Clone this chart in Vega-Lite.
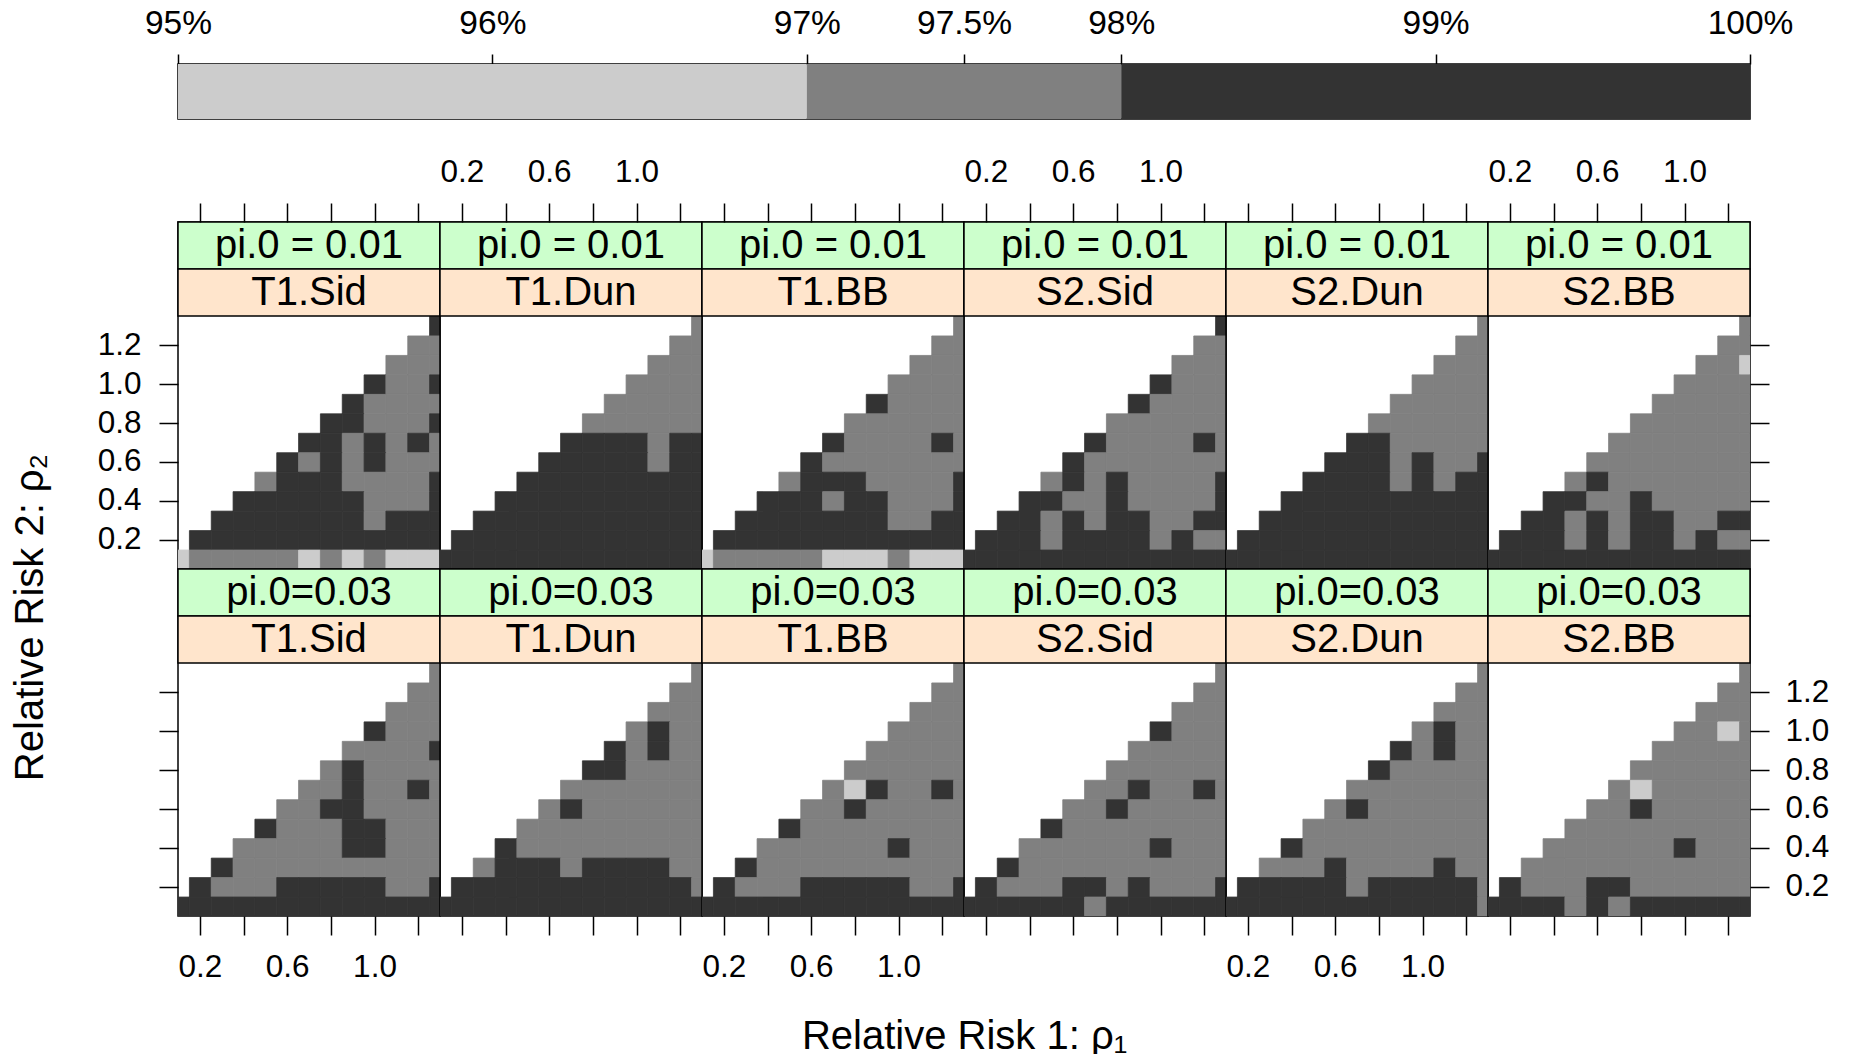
{
"$schema": "https://vega.github.io/schema/vega-lite/v6.json",
"background": "white",
"padding": {"left": 10, "top": 5, "right": 5, "bottom": 5},
"config": {
  "font": "Liberation Sans",
  "view": {"stroke": "black", "strokeWidth": 1.5},
  "axis": {"domain": false, "grid": false, "tickColor": "black", "tickWidth": 1.5, "tickSize": 19, "labelFontSize": 31.5, "labelColor": "black", "labelFlush": false, "labelOverlap": false, "titleFontSize": 40, "titleFontWeight": "normal", "titleColor": "black", "labelPadding": 14}
},
"datasets": {
"A1": [
{"x":1.3,"y":1.3,"v":99},
{"x":1.2,"y":1.2,"v":97.5},{"x":1.3,"y":1.2,"v":97.5},
{"x":1.1,"y":1.1,"v":97.5},{"x":1.2,"y":1.1,"v":97.5},{"x":1.3,"y":1.1,"v":97.5},
{"x":1,"y":1,"v":99},{"x":1.1,"y":1,"v":97.5},{"x":1.2,"y":1,"v":97.5},{"x":1.3,"y":1,"v":99},
{"x":0.9,"y":0.9,"v":99},{"x":1,"y":0.9,"v":97.5},{"x":1.1,"y":0.9,"v":97.5},{"x":1.2,"y":0.9,"v":97.5},{"x":1.3,"y":0.9,"v":97.5},
{"x":0.8,"y":0.8,"v":99},{"x":0.9,"y":0.8,"v":99},{"x":1,"y":0.8,"v":97.5},{"x":1.1,"y":0.8,"v":97.5},{"x":1.2,"y":0.8,"v":97.5},{"x":1.3,"y":0.8,"v":99},
{"x":0.7,"y":0.7,"v":99},{"x":0.8,"y":0.7,"v":99},{"x":0.9,"y":0.7,"v":97.5},{"x":1,"y":0.7,"v":99},{"x":1.1,"y":0.7,"v":97.5},{"x":1.2,"y":0.7,"v":99},{"x":1.3,"y":0.7,"v":97.5},
{"x":0.6,"y":0.6,"v":99},{"x":0.7,"y":0.6,"v":97.5},{"x":0.8,"y":0.6,"v":99},{"x":0.9,"y":0.6,"v":97.5},{"x":1,"y":0.6,"v":99},{"x":1.1,"y":0.6,"v":97.5},{"x":1.2,"y":0.6,"v":97.5},{"x":1.3,"y":0.6,"v":97.5},
{"x":0.5,"y":0.5,"v":97.5},{"x":0.6,"y":0.5,"v":99},{"x":0.7,"y":0.5,"v":99},{"x":0.8,"y":0.5,"v":99},{"x":0.9,"y":0.5,"v":97.5},{"x":1,"y":0.5,"v":97.5},{"x":1.1,"y":0.5,"v":97.5},{"x":1.2,"y":0.5,"v":97.5},{"x":1.3,"y":0.5,"v":99},
{"x":0.4,"y":0.4,"v":99},{"x":0.5,"y":0.4,"v":99},{"x":0.6,"y":0.4,"v":99},{"x":0.7,"y":0.4,"v":99},{"x":0.8,"y":0.4,"v":99},{"x":0.9,"y":0.4,"v":99},{"x":1,"y":0.4,"v":97.5},{"x":1.1,"y":0.4,"v":97.5},{"x":1.2,"y":0.4,"v":97.5},{"x":1.3,"y":0.4,"v":99},
{"x":0.3,"y":0.3,"v":99},{"x":0.4,"y":0.3,"v":99},{"x":0.5,"y":0.3,"v":99},{"x":0.6,"y":0.3,"v":99},{"x":0.7,"y":0.3,"v":99},{"x":0.8,"y":0.3,"v":99},{"x":0.9,"y":0.3,"v":99},{"x":1,"y":0.3,"v":97.5},{"x":1.1,"y":0.3,"v":99},{"x":1.2,"y":0.3,"v":99},{"x":1.3,"y":0.3,"v":99},
{"x":0.2,"y":0.2,"v":99},{"x":0.3,"y":0.2,"v":99},{"x":0.4,"y":0.2,"v":99},{"x":0.5,"y":0.2,"v":99},{"x":0.6,"y":0.2,"v":99},{"x":0.7,"y":0.2,"v":99},{"x":0.8,"y":0.2,"v":99},{"x":0.9,"y":0.2,"v":99},{"x":1,"y":0.2,"v":99},{"x":1.1,"y":0.2,"v":99},{"x":1.2,"y":0.2,"v":99},{"x":1.3,"y":0.2,"v":99},
{"x":0.1,"y":0.1,"v":96},{"x":0.2,"y":0.1,"v":97.5},{"x":0.3,"y":0.1,"v":97.5},{"x":0.4,"y":0.1,"v":97.5},{"x":0.5,"y":0.1,"v":97.5},{"x":0.6,"y":0.1,"v":97.5},{"x":0.7,"y":0.1,"v":96},{"x":0.8,"y":0.1,"v":97.5},{"x":0.9,"y":0.1,"v":96},{"x":1,"y":0.1,"v":97.5},{"x":1.1,"y":0.1,"v":96},{"x":1.2,"y":0.1,"v":96},{"x":1.3,"y":0.1,"v":96}
],
"A2": [
{"x":1.3,"y":1.3,"v":97.5},
{"x":1.2,"y":1.2,"v":97.5},{"x":1.3,"y":1.2,"v":97.5},
{"x":1.1,"y":1.1,"v":97.5},{"x":1.2,"y":1.1,"v":97.5},{"x":1.3,"y":1.1,"v":97.5},
{"x":1,"y":1,"v":97.5},{"x":1.1,"y":1,"v":97.5},{"x":1.2,"y":1,"v":97.5},{"x":1.3,"y":1,"v":97.5},
{"x":0.9,"y":0.9,"v":97.5},{"x":1,"y":0.9,"v":97.5},{"x":1.1,"y":0.9,"v":97.5},{"x":1.2,"y":0.9,"v":97.5},{"x":1.3,"y":0.9,"v":97.5},
{"x":0.8,"y":0.8,"v":97.5},{"x":0.9,"y":0.8,"v":97.5},{"x":1,"y":0.8,"v":97.5},{"x":1.1,"y":0.8,"v":97.5},{"x":1.2,"y":0.8,"v":97.5},{"x":1.3,"y":0.8,"v":97.5},
{"x":0.7,"y":0.7,"v":99},{"x":0.8,"y":0.7,"v":99},{"x":0.9,"y":0.7,"v":99},{"x":1,"y":0.7,"v":99},{"x":1.1,"y":0.7,"v":97.5},{"x":1.2,"y":0.7,"v":99},{"x":1.3,"y":0.7,"v":99},
{"x":0.6,"y":0.6,"v":99},{"x":0.7,"y":0.6,"v":99},{"x":0.8,"y":0.6,"v":99},{"x":0.9,"y":0.6,"v":99},{"x":1,"y":0.6,"v":99},{"x":1.1,"y":0.6,"v":97.5},{"x":1.2,"y":0.6,"v":99},{"x":1.3,"y":0.6,"v":99},
{"x":0.5,"y":0.5,"v":99},{"x":0.6,"y":0.5,"v":99},{"x":0.7,"y":0.5,"v":99},{"x":0.8,"y":0.5,"v":99},{"x":0.9,"y":0.5,"v":99},{"x":1,"y":0.5,"v":99},{"x":1.1,"y":0.5,"v":99},{"x":1.2,"y":0.5,"v":99},{"x":1.3,"y":0.5,"v":99},
{"x":0.4,"y":0.4,"v":99},{"x":0.5,"y":0.4,"v":99},{"x":0.6,"y":0.4,"v":99},{"x":0.7,"y":0.4,"v":99},{"x":0.8,"y":0.4,"v":99},{"x":0.9,"y":0.4,"v":99},{"x":1,"y":0.4,"v":99},{"x":1.1,"y":0.4,"v":99},{"x":1.2,"y":0.4,"v":99},{"x":1.3,"y":0.4,"v":99},
{"x":0.3,"y":0.3,"v":99},{"x":0.4,"y":0.3,"v":99},{"x":0.5,"y":0.3,"v":99},{"x":0.6,"y":0.3,"v":99},{"x":0.7,"y":0.3,"v":99},{"x":0.8,"y":0.3,"v":99},{"x":0.9,"y":0.3,"v":99},{"x":1,"y":0.3,"v":99},{"x":1.1,"y":0.3,"v":99},{"x":1.2,"y":0.3,"v":99},{"x":1.3,"y":0.3,"v":99},
{"x":0.2,"y":0.2,"v":99},{"x":0.3,"y":0.2,"v":99},{"x":0.4,"y":0.2,"v":99},{"x":0.5,"y":0.2,"v":99},{"x":0.6,"y":0.2,"v":99},{"x":0.7,"y":0.2,"v":99},{"x":0.8,"y":0.2,"v":99},{"x":0.9,"y":0.2,"v":99},{"x":1,"y":0.2,"v":99},{"x":1.1,"y":0.2,"v":99},{"x":1.2,"y":0.2,"v":99},{"x":1.3,"y":0.2,"v":99},
{"x":0.1,"y":0.1,"v":99},{"x":0.2,"y":0.1,"v":99},{"x":0.3,"y":0.1,"v":99},{"x":0.4,"y":0.1,"v":99},{"x":0.5,"y":0.1,"v":99},{"x":0.6,"y":0.1,"v":99},{"x":0.7,"y":0.1,"v":99},{"x":0.8,"y":0.1,"v":99},{"x":0.9,"y":0.1,"v":99},{"x":1,"y":0.1,"v":99},{"x":1.1,"y":0.1,"v":99},{"x":1.2,"y":0.1,"v":99},{"x":1.3,"y":0.1,"v":99}
],
"A3": [
{"x":1.3,"y":1.3,"v":97.5},
{"x":1.2,"y":1.2,"v":97.5},{"x":1.3,"y":1.2,"v":97.5},
{"x":1.1,"y":1.1,"v":97.5},{"x":1.2,"y":1.1,"v":97.5},{"x":1.3,"y":1.1,"v":97.5},
{"x":1,"y":1,"v":97.5},{"x":1.1,"y":1,"v":97.5},{"x":1.2,"y":1,"v":97.5},{"x":1.3,"y":1,"v":97.5},
{"x":0.9,"y":0.9,"v":99},{"x":1,"y":0.9,"v":97.5},{"x":1.1,"y":0.9,"v":97.5},{"x":1.2,"y":0.9,"v":97.5},{"x":1.3,"y":0.9,"v":97.5},
{"x":0.8,"y":0.8,"v":97.5},{"x":0.9,"y":0.8,"v":97.5},{"x":1,"y":0.8,"v":97.5},{"x":1.1,"y":0.8,"v":97.5},{"x":1.2,"y":0.8,"v":97.5},{"x":1.3,"y":0.8,"v":97.5},
{"x":0.7,"y":0.7,"v":99},{"x":0.8,"y":0.7,"v":97.5},{"x":0.9,"y":0.7,"v":97.5},{"x":1,"y":0.7,"v":97.5},{"x":1.1,"y":0.7,"v":97.5},{"x":1.2,"y":0.7,"v":99},{"x":1.3,"y":0.7,"v":97.5},
{"x":0.6,"y":0.6,"v":99},{"x":0.7,"y":0.6,"v":97.5},{"x":0.8,"y":0.6,"v":97.5},{"x":0.9,"y":0.6,"v":97.5},{"x":1,"y":0.6,"v":97.5},{"x":1.1,"y":0.6,"v":97.5},{"x":1.2,"y":0.6,"v":97.5},{"x":1.3,"y":0.6,"v":97.5},
{"x":0.5,"y":0.5,"v":97.5},{"x":0.6,"y":0.5,"v":99},{"x":0.7,"y":0.5,"v":99},{"x":0.8,"y":0.5,"v":99},{"x":0.9,"y":0.5,"v":97.5},{"x":1,"y":0.5,"v":97.5},{"x":1.1,"y":0.5,"v":97.5},{"x":1.2,"y":0.5,"v":97.5},{"x":1.3,"y":0.5,"v":99},
{"x":0.4,"y":0.4,"v":99},{"x":0.5,"y":0.4,"v":99},{"x":0.6,"y":0.4,"v":99},{"x":0.7,"y":0.4,"v":97.5},{"x":0.8,"y":0.4,"v":99},{"x":0.9,"y":0.4,"v":99},{"x":1,"y":0.4,"v":97.5},{"x":1.1,"y":0.4,"v":97.5},{"x":1.2,"y":0.4,"v":97.5},{"x":1.3,"y":0.4,"v":99},
{"x":0.3,"y":0.3,"v":99},{"x":0.4,"y":0.3,"v":99},{"x":0.5,"y":0.3,"v":99},{"x":0.6,"y":0.3,"v":99},{"x":0.7,"y":0.3,"v":99},{"x":0.8,"y":0.3,"v":99},{"x":0.9,"y":0.3,"v":99},{"x":1,"y":0.3,"v":97.5},{"x":1.1,"y":0.3,"v":97.5},{"x":1.2,"y":0.3,"v":99},{"x":1.3,"y":0.3,"v":99},
{"x":0.2,"y":0.2,"v":99},{"x":0.3,"y":0.2,"v":99},{"x":0.4,"y":0.2,"v":99},{"x":0.5,"y":0.2,"v":99},{"x":0.6,"y":0.2,"v":99},{"x":0.7,"y":0.2,"v":99},{"x":0.8,"y":0.2,"v":99},{"x":0.9,"y":0.2,"v":99},{"x":1,"y":0.2,"v":99},{"x":1.1,"y":0.2,"v":99},{"x":1.2,"y":0.2,"v":99},{"x":1.3,"y":0.2,"v":99},
{"x":0.1,"y":0.1,"v":96},{"x":0.2,"y":0.1,"v":97.5},{"x":0.3,"y":0.1,"v":97.5},{"x":0.4,"y":0.1,"v":97.5},{"x":0.5,"y":0.1,"v":97.5},{"x":0.6,"y":0.1,"v":97.5},{"x":0.7,"y":0.1,"v":96},{"x":0.8,"y":0.1,"v":96},{"x":0.9,"y":0.1,"v":96},{"x":1,"y":0.1,"v":97.5},{"x":1.1,"y":0.1,"v":96},{"x":1.2,"y":0.1,"v":96},{"x":1.3,"y":0.1,"v":96}
],
"A4": [
{"x":1.3,"y":1.3,"v":99},
{"x":1.2,"y":1.2,"v":97.5},{"x":1.3,"y":1.2,"v":97.5},
{"x":1.1,"y":1.1,"v":97.5},{"x":1.2,"y":1.1,"v":97.5},{"x":1.3,"y":1.1,"v":97.5},
{"x":1,"y":1,"v":99},{"x":1.1,"y":1,"v":97.5},{"x":1.2,"y":1,"v":97.5},{"x":1.3,"y":1,"v":97.5},
{"x":0.9,"y":0.9,"v":99},{"x":1,"y":0.9,"v":97.5},{"x":1.1,"y":0.9,"v":97.5},{"x":1.2,"y":0.9,"v":97.5},{"x":1.3,"y":0.9,"v":97.5},
{"x":0.8,"y":0.8,"v":97.5},{"x":0.9,"y":0.8,"v":97.5},{"x":1,"y":0.8,"v":97.5},{"x":1.1,"y":0.8,"v":97.5},{"x":1.2,"y":0.8,"v":97.5},{"x":1.3,"y":0.8,"v":97.5},
{"x":0.7,"y":0.7,"v":99},{"x":0.8,"y":0.7,"v":97.5},{"x":0.9,"y":0.7,"v":97.5},{"x":1,"y":0.7,"v":97.5},{"x":1.1,"y":0.7,"v":97.5},{"x":1.2,"y":0.7,"v":99},{"x":1.3,"y":0.7,"v":97.5},
{"x":0.6,"y":0.6,"v":99},{"x":0.7,"y":0.6,"v":97.5},{"x":0.8,"y":0.6,"v":97.5},{"x":0.9,"y":0.6,"v":97.5},{"x":1,"y":0.6,"v":97.5},{"x":1.1,"y":0.6,"v":97.5},{"x":1.2,"y":0.6,"v":97.5},{"x":1.3,"y":0.6,"v":97.5},
{"x":0.5,"y":0.5,"v":97.5},{"x":0.6,"y":0.5,"v":99},{"x":0.7,"y":0.5,"v":97.5},{"x":0.8,"y":0.5,"v":99},{"x":0.9,"y":0.5,"v":97.5},{"x":1,"y":0.5,"v":97.5},{"x":1.1,"y":0.5,"v":97.5},{"x":1.2,"y":0.5,"v":97.5},{"x":1.3,"y":0.5,"v":99},
{"x":0.4,"y":0.4,"v":99},{"x":0.5,"y":0.4,"v":99},{"x":0.6,"y":0.4,"v":97.5},{"x":0.7,"y":0.4,"v":97.5},{"x":0.8,"y":0.4,"v":99},{"x":0.9,"y":0.4,"v":97.5},{"x":1,"y":0.4,"v":97.5},{"x":1.1,"y":0.4,"v":97.5},{"x":1.2,"y":0.4,"v":97.5},{"x":1.3,"y":0.4,"v":99},
{"x":0.3,"y":0.3,"v":99},{"x":0.4,"y":0.3,"v":99},{"x":0.5,"y":0.3,"v":97.5},{"x":0.6,"y":0.3,"v":99},{"x":0.7,"y":0.3,"v":97.5},{"x":0.8,"y":0.3,"v":99},{"x":0.9,"y":0.3,"v":99},{"x":1,"y":0.3,"v":97.5},{"x":1.1,"y":0.3,"v":97.5},{"x":1.2,"y":0.3,"v":99},{"x":1.3,"y":0.3,"v":99},
{"x":0.2,"y":0.2,"v":99},{"x":0.3,"y":0.2,"v":99},{"x":0.4,"y":0.2,"v":99},{"x":0.5,"y":0.2,"v":97.5},{"x":0.6,"y":0.2,"v":99},{"x":0.7,"y":0.2,"v":99},{"x":0.8,"y":0.2,"v":99},{"x":0.9,"y":0.2,"v":99},{"x":1,"y":0.2,"v":97.5},{"x":1.1,"y":0.2,"v":99},{"x":1.2,"y":0.2,"v":97.5},{"x":1.3,"y":0.2,"v":97.5},
{"x":0.1,"y":0.1,"v":99},{"x":0.2,"y":0.1,"v":99},{"x":0.3,"y":0.1,"v":99},{"x":0.4,"y":0.1,"v":99},{"x":0.5,"y":0.1,"v":99},{"x":0.6,"y":0.1,"v":99},{"x":0.7,"y":0.1,"v":99},{"x":0.8,"y":0.1,"v":99},{"x":0.9,"y":0.1,"v":99},{"x":1,"y":0.1,"v":99},{"x":1.1,"y":0.1,"v":99},{"x":1.2,"y":0.1,"v":99},{"x":1.3,"y":0.1,"v":99}
],
"A5": [
{"x":1.3,"y":1.3,"v":97.5},
{"x":1.2,"y":1.2,"v":97.5},{"x":1.3,"y":1.2,"v":97.5},
{"x":1.1,"y":1.1,"v":97.5},{"x":1.2,"y":1.1,"v":97.5},{"x":1.3,"y":1.1,"v":97.5},
{"x":1,"y":1,"v":97.5},{"x":1.1,"y":1,"v":97.5},{"x":1.2,"y":1,"v":97.5},{"x":1.3,"y":1,"v":97.5},
{"x":0.9,"y":0.9,"v":97.5},{"x":1,"y":0.9,"v":97.5},{"x":1.1,"y":0.9,"v":97.5},{"x":1.2,"y":0.9,"v":97.5},{"x":1.3,"y":0.9,"v":97.5},
{"x":0.8,"y":0.8,"v":97.5},{"x":0.9,"y":0.8,"v":97.5},{"x":1,"y":0.8,"v":97.5},{"x":1.1,"y":0.8,"v":97.5},{"x":1.2,"y":0.8,"v":97.5},{"x":1.3,"y":0.8,"v":97.5},
{"x":0.7,"y":0.7,"v":99},{"x":0.8,"y":0.7,"v":99},{"x":0.9,"y":0.7,"v":97.5},{"x":1,"y":0.7,"v":97.5},{"x":1.1,"y":0.7,"v":97.5},{"x":1.2,"y":0.7,"v":97.5},{"x":1.3,"y":0.7,"v":97.5},
{"x":0.6,"y":0.6,"v":99},{"x":0.7,"y":0.6,"v":99},{"x":0.8,"y":0.6,"v":99},{"x":0.9,"y":0.6,"v":97.5},{"x":1,"y":0.6,"v":99},{"x":1.1,"y":0.6,"v":97.5},{"x":1.2,"y":0.6,"v":97.5},{"x":1.3,"y":0.6,"v":99},
{"x":0.5,"y":0.5,"v":99},{"x":0.6,"y":0.5,"v":99},{"x":0.7,"y":0.5,"v":99},{"x":0.8,"y":0.5,"v":99},{"x":0.9,"y":0.5,"v":97.5},{"x":1,"y":0.5,"v":99},{"x":1.1,"y":0.5,"v":97.5},{"x":1.2,"y":0.5,"v":99},{"x":1.3,"y":0.5,"v":99},
{"x":0.4,"y":0.4,"v":99},{"x":0.5,"y":0.4,"v":99},{"x":0.6,"y":0.4,"v":99},{"x":0.7,"y":0.4,"v":99},{"x":0.8,"y":0.4,"v":99},{"x":0.9,"y":0.4,"v":99},{"x":1,"y":0.4,"v":99},{"x":1.1,"y":0.4,"v":99},{"x":1.2,"y":0.4,"v":99},{"x":1.3,"y":0.4,"v":99},
{"x":0.3,"y":0.3,"v":99},{"x":0.4,"y":0.3,"v":99},{"x":0.5,"y":0.3,"v":99},{"x":0.6,"y":0.3,"v":99},{"x":0.7,"y":0.3,"v":99},{"x":0.8,"y":0.3,"v":99},{"x":0.9,"y":0.3,"v":99},{"x":1,"y":0.3,"v":99},{"x":1.1,"y":0.3,"v":99},{"x":1.2,"y":0.3,"v":99},{"x":1.3,"y":0.3,"v":99},
{"x":0.2,"y":0.2,"v":99},{"x":0.3,"y":0.2,"v":99},{"x":0.4,"y":0.2,"v":99},{"x":0.5,"y":0.2,"v":99},{"x":0.6,"y":0.2,"v":99},{"x":0.7,"y":0.2,"v":99},{"x":0.8,"y":0.2,"v":99},{"x":0.9,"y":0.2,"v":99},{"x":1,"y":0.2,"v":99},{"x":1.1,"y":0.2,"v":99},{"x":1.2,"y":0.2,"v":99},{"x":1.3,"y":0.2,"v":99},
{"x":0.1,"y":0.1,"v":99},{"x":0.2,"y":0.1,"v":99},{"x":0.3,"y":0.1,"v":99},{"x":0.4,"y":0.1,"v":99},{"x":0.5,"y":0.1,"v":99},{"x":0.6,"y":0.1,"v":99},{"x":0.7,"y":0.1,"v":99},{"x":0.8,"y":0.1,"v":99},{"x":0.9,"y":0.1,"v":99},{"x":1,"y":0.1,"v":99},{"x":1.1,"y":0.1,"v":99},{"x":1.2,"y":0.1,"v":99},{"x":1.3,"y":0.1,"v":99}
],
"A6": [
{"x":1.3,"y":1.3,"v":97.5},
{"x":1.2,"y":1.2,"v":97.5},{"x":1.3,"y":1.2,"v":97.5},
{"x":1.1,"y":1.1,"v":97.5},{"x":1.2,"y":1.1,"v":97.5},{"x":1.3,"y":1.1,"v":96},
{"x":1,"y":1,"v":97.5},{"x":1.1,"y":1,"v":97.5},{"x":1.2,"y":1,"v":97.5},{"x":1.3,"y":1,"v":97.5},
{"x":0.9,"y":0.9,"v":97.5},{"x":1,"y":0.9,"v":97.5},{"x":1.1,"y":0.9,"v":97.5},{"x":1.2,"y":0.9,"v":97.5},{"x":1.3,"y":0.9,"v":97.5},
{"x":0.8,"y":0.8,"v":97.5},{"x":0.9,"y":0.8,"v":97.5},{"x":1,"y":0.8,"v":97.5},{"x":1.1,"y":0.8,"v":97.5},{"x":1.2,"y":0.8,"v":97.5},{"x":1.3,"y":0.8,"v":97.5},
{"x":0.7,"y":0.7,"v":97.5},{"x":0.8,"y":0.7,"v":97.5},{"x":0.9,"y":0.7,"v":97.5},{"x":1,"y":0.7,"v":97.5},{"x":1.1,"y":0.7,"v":97.5},{"x":1.2,"y":0.7,"v":97.5},{"x":1.3,"y":0.7,"v":97.5},
{"x":0.6,"y":0.6,"v":97.5},{"x":0.7,"y":0.6,"v":97.5},{"x":0.8,"y":0.6,"v":97.5},{"x":0.9,"y":0.6,"v":97.5},{"x":1,"y":0.6,"v":97.5},{"x":1.1,"y":0.6,"v":97.5},{"x":1.2,"y":0.6,"v":97.5},{"x":1.3,"y":0.6,"v":97.5},
{"x":0.5,"y":0.5,"v":97.5},{"x":0.6,"y":0.5,"v":99},{"x":0.7,"y":0.5,"v":97.5},{"x":0.8,"y":0.5,"v":97.5},{"x":0.9,"y":0.5,"v":97.5},{"x":1,"y":0.5,"v":97.5},{"x":1.1,"y":0.5,"v":97.5},{"x":1.2,"y":0.5,"v":97.5},{"x":1.3,"y":0.5,"v":97.5},
{"x":0.4,"y":0.4,"v":99},{"x":0.5,"y":0.4,"v":99},{"x":0.6,"y":0.4,"v":97.5},{"x":0.7,"y":0.4,"v":97.5},{"x":0.8,"y":0.4,"v":99},{"x":0.9,"y":0.4,"v":97.5},{"x":1,"y":0.4,"v":97.5},{"x":1.1,"y":0.4,"v":97.5},{"x":1.2,"y":0.4,"v":97.5},{"x":1.3,"y":0.4,"v":97.5},
{"x":0.3,"y":0.3,"v":99},{"x":0.4,"y":0.3,"v":99},{"x":0.5,"y":0.3,"v":97.5},{"x":0.6,"y":0.3,"v":99},{"x":0.7,"y":0.3,"v":97.5},{"x":0.8,"y":0.3,"v":99},{"x":0.9,"y":0.3,"v":99},{"x":1,"y":0.3,"v":97.5},{"x":1.1,"y":0.3,"v":97.5},{"x":1.2,"y":0.3,"v":99},{"x":1.3,"y":0.3,"v":99},
{"x":0.2,"y":0.2,"v":99},{"x":0.3,"y":0.2,"v":99},{"x":0.4,"y":0.2,"v":99},{"x":0.5,"y":0.2,"v":97.5},{"x":0.6,"y":0.2,"v":99},{"x":0.7,"y":0.2,"v":97.5},{"x":0.8,"y":0.2,"v":99},{"x":0.9,"y":0.2,"v":99},{"x":1,"y":0.2,"v":97.5},{"x":1.1,"y":0.2,"v":99},{"x":1.2,"y":0.2,"v":97.5},{"x":1.3,"y":0.2,"v":97.5},
{"x":0.1,"y":0.1,"v":99},{"x":0.2,"y":0.1,"v":99},{"x":0.3,"y":0.1,"v":99},{"x":0.4,"y":0.1,"v":99},{"x":0.5,"y":0.1,"v":99},{"x":0.6,"y":0.1,"v":99},{"x":0.7,"y":0.1,"v":99},{"x":0.8,"y":0.1,"v":99},{"x":0.9,"y":0.1,"v":99},{"x":1,"y":0.1,"v":99},{"x":1.1,"y":0.1,"v":99},{"x":1.2,"y":0.1,"v":99},{"x":1.3,"y":0.1,"v":99}
],
"B1": [
{"x":1.3,"y":1.3,"v":97.5},
{"x":1.2,"y":1.2,"v":97.5},{"x":1.3,"y":1.2,"v":97.5},
{"x":1.1,"y":1.1,"v":97.5},{"x":1.2,"y":1.1,"v":97.5},{"x":1.3,"y":1.1,"v":97.5},
{"x":1,"y":1,"v":99},{"x":1.1,"y":1,"v":97.5},{"x":1.2,"y":1,"v":97.5},{"x":1.3,"y":1,"v":97.5},
{"x":0.9,"y":0.9,"v":97.5},{"x":1,"y":0.9,"v":97.5},{"x":1.1,"y":0.9,"v":97.5},{"x":1.2,"y":0.9,"v":97.5},{"x":1.3,"y":0.9,"v":99},
{"x":0.8,"y":0.8,"v":97.5},{"x":0.9,"y":0.8,"v":99},{"x":1,"y":0.8,"v":97.5},{"x":1.1,"y":0.8,"v":97.5},{"x":1.2,"y":0.8,"v":97.5},{"x":1.3,"y":0.8,"v":97.5},
{"x":0.7,"y":0.7,"v":97.5},{"x":0.8,"y":0.7,"v":97.5},{"x":0.9,"y":0.7,"v":99},{"x":1,"y":0.7,"v":97.5},{"x":1.1,"y":0.7,"v":97.5},{"x":1.2,"y":0.7,"v":99},{"x":1.3,"y":0.7,"v":97.5},
{"x":0.6,"y":0.6,"v":97.5},{"x":0.7,"y":0.6,"v":97.5},{"x":0.8,"y":0.6,"v":99},{"x":0.9,"y":0.6,"v":99},{"x":1,"y":0.6,"v":97.5},{"x":1.1,"y":0.6,"v":97.5},{"x":1.2,"y":0.6,"v":97.5},{"x":1.3,"y":0.6,"v":97.5},
{"x":0.5,"y":0.5,"v":99},{"x":0.6,"y":0.5,"v":97.5},{"x":0.7,"y":0.5,"v":97.5},{"x":0.8,"y":0.5,"v":97.5},{"x":0.9,"y":0.5,"v":99},{"x":1,"y":0.5,"v":99},{"x":1.1,"y":0.5,"v":97.5},{"x":1.2,"y":0.5,"v":97.5},{"x":1.3,"y":0.5,"v":97.5},
{"x":0.4,"y":0.4,"v":97.5},{"x":0.5,"y":0.4,"v":97.5},{"x":0.6,"y":0.4,"v":97.5},{"x":0.7,"y":0.4,"v":97.5},{"x":0.8,"y":0.4,"v":97.5},{"x":0.9,"y":0.4,"v":99},{"x":1,"y":0.4,"v":99},{"x":1.1,"y":0.4,"v":97.5},{"x":1.2,"y":0.4,"v":97.5},{"x":1.3,"y":0.4,"v":97.5},
{"x":0.3,"y":0.3,"v":99},{"x":0.4,"y":0.3,"v":97.5},{"x":0.5,"y":0.3,"v":97.5},{"x":0.6,"y":0.3,"v":97.5},{"x":0.7,"y":0.3,"v":97.5},{"x":0.8,"y":0.3,"v":97.5},{"x":0.9,"y":0.3,"v":97.5},{"x":1,"y":0.3,"v":97.5},{"x":1.1,"y":0.3,"v":97.5},{"x":1.2,"y":0.3,"v":97.5},{"x":1.3,"y":0.3,"v":97.5},
{"x":0.2,"y":0.2,"v":99},{"x":0.3,"y":0.2,"v":97.5},{"x":0.4,"y":0.2,"v":97.5},{"x":0.5,"y":0.2,"v":97.5},{"x":0.6,"y":0.2,"v":99},{"x":0.7,"y":0.2,"v":99},{"x":0.8,"y":0.2,"v":99},{"x":0.9,"y":0.2,"v":99},{"x":1,"y":0.2,"v":99},{"x":1.1,"y":0.2,"v":97.5},{"x":1.2,"y":0.2,"v":97.5},{"x":1.3,"y":0.2,"v":99},
{"x":0.1,"y":0.1,"v":99},{"x":0.2,"y":0.1,"v":99},{"x":0.3,"y":0.1,"v":99},{"x":0.4,"y":0.1,"v":99},{"x":0.5,"y":0.1,"v":99},{"x":0.6,"y":0.1,"v":99},{"x":0.7,"y":0.1,"v":99},{"x":0.8,"y":0.1,"v":99},{"x":0.9,"y":0.1,"v":99},{"x":1,"y":0.1,"v":99},{"x":1.1,"y":0.1,"v":99},{"x":1.2,"y":0.1,"v":99},{"x":1.3,"y":0.1,"v":99}
],
"B2": [
{"x":1.3,"y":1.3,"v":97.5},
{"x":1.2,"y":1.2,"v":97.5},{"x":1.3,"y":1.2,"v":97.5},
{"x":1.1,"y":1.1,"v":97.5},{"x":1.2,"y":1.1,"v":97.5},{"x":1.3,"y":1.1,"v":97.5},
{"x":1,"y":1,"v":97.5},{"x":1.1,"y":1,"v":99},{"x":1.2,"y":1,"v":97.5},{"x":1.3,"y":1,"v":97.5},
{"x":0.9,"y":0.9,"v":99},{"x":1,"y":0.9,"v":97.5},{"x":1.1,"y":0.9,"v":99},{"x":1.2,"y":0.9,"v":97.5},{"x":1.3,"y":0.9,"v":97.5},
{"x":0.8,"y":0.8,"v":99},{"x":0.9,"y":0.8,"v":99},{"x":1,"y":0.8,"v":97.5},{"x":1.1,"y":0.8,"v":97.5},{"x":1.2,"y":0.8,"v":97.5},{"x":1.3,"y":0.8,"v":97.5},
{"x":0.7,"y":0.7,"v":97.5},{"x":0.8,"y":0.7,"v":97.5},{"x":0.9,"y":0.7,"v":97.5},{"x":1,"y":0.7,"v":97.5},{"x":1.1,"y":0.7,"v":97.5},{"x":1.2,"y":0.7,"v":97.5},{"x":1.3,"y":0.7,"v":97.5},
{"x":0.6,"y":0.6,"v":97.5},{"x":0.7,"y":0.6,"v":99},{"x":0.8,"y":0.6,"v":97.5},{"x":0.9,"y":0.6,"v":97.5},{"x":1,"y":0.6,"v":97.5},{"x":1.1,"y":0.6,"v":97.5},{"x":1.2,"y":0.6,"v":97.5},{"x":1.3,"y":0.6,"v":97.5},
{"x":0.5,"y":0.5,"v":97.5},{"x":0.6,"y":0.5,"v":97.5},{"x":0.7,"y":0.5,"v":97.5},{"x":0.8,"y":0.5,"v":97.5},{"x":0.9,"y":0.5,"v":97.5},{"x":1,"y":0.5,"v":97.5},{"x":1.1,"y":0.5,"v":97.5},{"x":1.2,"y":0.5,"v":97.5},{"x":1.3,"y":0.5,"v":97.5},
{"x":0.4,"y":0.4,"v":99},{"x":0.5,"y":0.4,"v":97.5},{"x":0.6,"y":0.4,"v":97.5},{"x":0.7,"y":0.4,"v":97.5},{"x":0.8,"y":0.4,"v":97.5},{"x":0.9,"y":0.4,"v":97.5},{"x":1,"y":0.4,"v":97.5},{"x":1.1,"y":0.4,"v":97.5},{"x":1.2,"y":0.4,"v":97.5},{"x":1.3,"y":0.4,"v":97.5},
{"x":0.3,"y":0.3,"v":97.5},{"x":0.4,"y":0.3,"v":99},{"x":0.5,"y":0.3,"v":99},{"x":0.6,"y":0.3,"v":99},{"x":0.7,"y":0.3,"v":97.5},{"x":0.8,"y":0.3,"v":99},{"x":0.9,"y":0.3,"v":99},{"x":1,"y":0.3,"v":99},{"x":1.1,"y":0.3,"v":99},{"x":1.2,"y":0.3,"v":97.5},{"x":1.3,"y":0.3,"v":97.5},
{"x":0.2,"y":0.2,"v":99},{"x":0.3,"y":0.2,"v":99},{"x":0.4,"y":0.2,"v":99},{"x":0.5,"y":0.2,"v":99},{"x":0.6,"y":0.2,"v":99},{"x":0.7,"y":0.2,"v":99},{"x":0.8,"y":0.2,"v":99},{"x":0.9,"y":0.2,"v":99},{"x":1,"y":0.2,"v":99},{"x":1.1,"y":0.2,"v":99},{"x":1.2,"y":0.2,"v":99},{"x":1.3,"y":0.2,"v":97.5},
{"x":0.1,"y":0.1,"v":99},{"x":0.2,"y":0.1,"v":99},{"x":0.3,"y":0.1,"v":99},{"x":0.4,"y":0.1,"v":99},{"x":0.5,"y":0.1,"v":99},{"x":0.6,"y":0.1,"v":99},{"x":0.7,"y":0.1,"v":99},{"x":0.8,"y":0.1,"v":99},{"x":0.9,"y":0.1,"v":99},{"x":1,"y":0.1,"v":99},{"x":1.1,"y":0.1,"v":99},{"x":1.2,"y":0.1,"v":99},{"x":1.3,"y":0.1,"v":99}
],
"B3": [
{"x":1.3,"y":1.3,"v":97.5},
{"x":1.2,"y":1.2,"v":97.5},{"x":1.3,"y":1.2,"v":97.5},
{"x":1.1,"y":1.1,"v":97.5},{"x":1.2,"y":1.1,"v":97.5},{"x":1.3,"y":1.1,"v":97.5},
{"x":1,"y":1,"v":97.5},{"x":1.1,"y":1,"v":97.5},{"x":1.2,"y":1,"v":97.5},{"x":1.3,"y":1,"v":97.5},
{"x":0.9,"y":0.9,"v":97.5},{"x":1,"y":0.9,"v":97.5},{"x":1.1,"y":0.9,"v":97.5},{"x":1.2,"y":0.9,"v":97.5},{"x":1.3,"y":0.9,"v":97.5},
{"x":0.8,"y":0.8,"v":97.5},{"x":0.9,"y":0.8,"v":97.5},{"x":1,"y":0.8,"v":97.5},{"x":1.1,"y":0.8,"v":97.5},{"x":1.2,"y":0.8,"v":97.5},{"x":1.3,"y":0.8,"v":97.5},
{"x":0.7,"y":0.7,"v":97.5},{"x":0.8,"y":0.7,"v":96},{"x":0.9,"y":0.7,"v":99},{"x":1,"y":0.7,"v":97.5},{"x":1.1,"y":0.7,"v":97.5},{"x":1.2,"y":0.7,"v":99},{"x":1.3,"y":0.7,"v":97.5},
{"x":0.6,"y":0.6,"v":97.5},{"x":0.7,"y":0.6,"v":97.5},{"x":0.8,"y":0.6,"v":99},{"x":0.9,"y":0.6,"v":97.5},{"x":1,"y":0.6,"v":97.5},{"x":1.1,"y":0.6,"v":97.5},{"x":1.2,"y":0.6,"v":97.5},{"x":1.3,"y":0.6,"v":97.5},
{"x":0.5,"y":0.5,"v":99},{"x":0.6,"y":0.5,"v":97.5},{"x":0.7,"y":0.5,"v":97.5},{"x":0.8,"y":0.5,"v":97.5},{"x":0.9,"y":0.5,"v":97.5},{"x":1,"y":0.5,"v":97.5},{"x":1.1,"y":0.5,"v":97.5},{"x":1.2,"y":0.5,"v":97.5},{"x":1.3,"y":0.5,"v":97.5},
{"x":0.4,"y":0.4,"v":97.5},{"x":0.5,"y":0.4,"v":97.5},{"x":0.6,"y":0.4,"v":97.5},{"x":0.7,"y":0.4,"v":97.5},{"x":0.8,"y":0.4,"v":97.5},{"x":0.9,"y":0.4,"v":97.5},{"x":1,"y":0.4,"v":99},{"x":1.1,"y":0.4,"v":97.5},{"x":1.2,"y":0.4,"v":97.5},{"x":1.3,"y":0.4,"v":97.5},
{"x":0.3,"y":0.3,"v":99},{"x":0.4,"y":0.3,"v":97.5},{"x":0.5,"y":0.3,"v":97.5},{"x":0.6,"y":0.3,"v":97.5},{"x":0.7,"y":0.3,"v":97.5},{"x":0.8,"y":0.3,"v":97.5},{"x":0.9,"y":0.3,"v":97.5},{"x":1,"y":0.3,"v":97.5},{"x":1.1,"y":0.3,"v":97.5},{"x":1.2,"y":0.3,"v":97.5},{"x":1.3,"y":0.3,"v":97.5},
{"x":0.2,"y":0.2,"v":99},{"x":0.3,"y":0.2,"v":97.5},{"x":0.4,"y":0.2,"v":97.5},{"x":0.5,"y":0.2,"v":97.5},{"x":0.6,"y":0.2,"v":99},{"x":0.7,"y":0.2,"v":99},{"x":0.8,"y":0.2,"v":99},{"x":0.9,"y":0.2,"v":99},{"x":1,"y":0.2,"v":99},{"x":1.1,"y":0.2,"v":97.5},{"x":1.2,"y":0.2,"v":97.5},{"x":1.3,"y":0.2,"v":99},
{"x":0.1,"y":0.1,"v":99},{"x":0.2,"y":0.1,"v":99},{"x":0.3,"y":0.1,"v":99},{"x":0.4,"y":0.1,"v":99},{"x":0.5,"y":0.1,"v":99},{"x":0.6,"y":0.1,"v":99},{"x":0.7,"y":0.1,"v":99},{"x":0.8,"y":0.1,"v":99},{"x":0.9,"y":0.1,"v":99},{"x":1,"y":0.1,"v":99},{"x":1.1,"y":0.1,"v":99},{"x":1.2,"y":0.1,"v":99},{"x":1.3,"y":0.1,"v":99}
],
"B4": [
{"x":1.3,"y":1.3,"v":97.5},
{"x":1.2,"y":1.2,"v":97.5},{"x":1.3,"y":1.2,"v":97.5},
{"x":1.1,"y":1.1,"v":97.5},{"x":1.2,"y":1.1,"v":97.5},{"x":1.3,"y":1.1,"v":97.5},
{"x":1,"y":1,"v":99},{"x":1.1,"y":1,"v":97.5},{"x":1.2,"y":1,"v":97.5},{"x":1.3,"y":1,"v":97.5},
{"x":0.9,"y":0.9,"v":97.5},{"x":1,"y":0.9,"v":97.5},{"x":1.1,"y":0.9,"v":97.5},{"x":1.2,"y":0.9,"v":97.5},{"x":1.3,"y":0.9,"v":97.5},
{"x":0.8,"y":0.8,"v":97.5},{"x":0.9,"y":0.8,"v":97.5},{"x":1,"y":0.8,"v":97.5},{"x":1.1,"y":0.8,"v":97.5},{"x":1.2,"y":0.8,"v":97.5},{"x":1.3,"y":0.8,"v":97.5},
{"x":0.7,"y":0.7,"v":97.5},{"x":0.8,"y":0.7,"v":97.5},{"x":0.9,"y":0.7,"v":99},{"x":1,"y":0.7,"v":97.5},{"x":1.1,"y":0.7,"v":97.5},{"x":1.2,"y":0.7,"v":99},{"x":1.3,"y":0.7,"v":97.5},
{"x":0.6,"y":0.6,"v":97.5},{"x":0.7,"y":0.6,"v":97.5},{"x":0.8,"y":0.6,"v":99},{"x":0.9,"y":0.6,"v":97.5},{"x":1,"y":0.6,"v":97.5},{"x":1.1,"y":0.6,"v":97.5},{"x":1.2,"y":0.6,"v":97.5},{"x":1.3,"y":0.6,"v":97.5},
{"x":0.5,"y":0.5,"v":99},{"x":0.6,"y":0.5,"v":97.5},{"x":0.7,"y":0.5,"v":97.5},{"x":0.8,"y":0.5,"v":97.5},{"x":0.9,"y":0.5,"v":97.5},{"x":1,"y":0.5,"v":97.5},{"x":1.1,"y":0.5,"v":97.5},{"x":1.2,"y":0.5,"v":97.5},{"x":1.3,"y":0.5,"v":97.5},
{"x":0.4,"y":0.4,"v":97.5},{"x":0.5,"y":0.4,"v":97.5},{"x":0.6,"y":0.4,"v":97.5},{"x":0.7,"y":0.4,"v":97.5},{"x":0.8,"y":0.4,"v":97.5},{"x":0.9,"y":0.4,"v":97.5},{"x":1,"y":0.4,"v":99},{"x":1.1,"y":0.4,"v":97.5},{"x":1.2,"y":0.4,"v":97.5},{"x":1.3,"y":0.4,"v":97.5},
{"x":0.3,"y":0.3,"v":99},{"x":0.4,"y":0.3,"v":97.5},{"x":0.5,"y":0.3,"v":97.5},{"x":0.6,"y":0.3,"v":97.5},{"x":0.7,"y":0.3,"v":97.5},{"x":0.8,"y":0.3,"v":97.5},{"x":0.9,"y":0.3,"v":97.5},{"x":1,"y":0.3,"v":97.5},{"x":1.1,"y":0.3,"v":97.5},{"x":1.2,"y":0.3,"v":97.5},{"x":1.3,"y":0.3,"v":97.5},
{"x":0.2,"y":0.2,"v":99},{"x":0.3,"y":0.2,"v":97.5},{"x":0.4,"y":0.2,"v":97.5},{"x":0.5,"y":0.2,"v":97.5},{"x":0.6,"y":0.2,"v":99},{"x":0.7,"y":0.2,"v":99},{"x":0.8,"y":0.2,"v":97.5},{"x":0.9,"y":0.2,"v":99},{"x":1,"y":0.2,"v":97.5},{"x":1.1,"y":0.2,"v":97.5},{"x":1.2,"y":0.2,"v":97.5},{"x":1.3,"y":0.2,"v":99},
{"x":0.1,"y":0.1,"v":99},{"x":0.2,"y":0.1,"v":99},{"x":0.3,"y":0.1,"v":99},{"x":0.4,"y":0.1,"v":99},{"x":0.5,"y":0.1,"v":99},{"x":0.6,"y":0.1,"v":99},{"x":0.7,"y":0.1,"v":97.5},{"x":0.8,"y":0.1,"v":99},{"x":0.9,"y":0.1,"v":99},{"x":1,"y":0.1,"v":99},{"x":1.1,"y":0.1,"v":99},{"x":1.2,"y":0.1,"v":99},{"x":1.3,"y":0.1,"v":99}
],
"B5": [
{"x":1.3,"y":1.3,"v":97.5},
{"x":1.2,"y":1.2,"v":97.5},{"x":1.3,"y":1.2,"v":97.5},
{"x":1.1,"y":1.1,"v":97.5},{"x":1.2,"y":1.1,"v":97.5},{"x":1.3,"y":1.1,"v":97.5},
{"x":1,"y":1,"v":97.5},{"x":1.1,"y":1,"v":99},{"x":1.2,"y":1,"v":97.5},{"x":1.3,"y":1,"v":97.5},
{"x":0.9,"y":0.9,"v":99},{"x":1,"y":0.9,"v":97.5},{"x":1.1,"y":0.9,"v":99},{"x":1.2,"y":0.9,"v":97.5},{"x":1.3,"y":0.9,"v":97.5},
{"x":0.8,"y":0.8,"v":99},{"x":0.9,"y":0.8,"v":97.5},{"x":1,"y":0.8,"v":97.5},{"x":1.1,"y":0.8,"v":97.5},{"x":1.2,"y":0.8,"v":97.5},{"x":1.3,"y":0.8,"v":97.5},
{"x":0.7,"y":0.7,"v":97.5},{"x":0.8,"y":0.7,"v":97.5},{"x":0.9,"y":0.7,"v":97.5},{"x":1,"y":0.7,"v":97.5},{"x":1.1,"y":0.7,"v":97.5},{"x":1.2,"y":0.7,"v":97.5},{"x":1.3,"y":0.7,"v":97.5},
{"x":0.6,"y":0.6,"v":97.5},{"x":0.7,"y":0.6,"v":99},{"x":0.8,"y":0.6,"v":97.5},{"x":0.9,"y":0.6,"v":97.5},{"x":1,"y":0.6,"v":97.5},{"x":1.1,"y":0.6,"v":97.5},{"x":1.2,"y":0.6,"v":97.5},{"x":1.3,"y":0.6,"v":97.5},
{"x":0.5,"y":0.5,"v":97.5},{"x":0.6,"y":0.5,"v":97.5},{"x":0.7,"y":0.5,"v":97.5},{"x":0.8,"y":0.5,"v":97.5},{"x":0.9,"y":0.5,"v":97.5},{"x":1,"y":0.5,"v":97.5},{"x":1.1,"y":0.5,"v":97.5},{"x":1.2,"y":0.5,"v":97.5},{"x":1.3,"y":0.5,"v":97.5},
{"x":0.4,"y":0.4,"v":99},{"x":0.5,"y":0.4,"v":97.5},{"x":0.6,"y":0.4,"v":97.5},{"x":0.7,"y":0.4,"v":97.5},{"x":0.8,"y":0.4,"v":97.5},{"x":0.9,"y":0.4,"v":97.5},{"x":1,"y":0.4,"v":97.5},{"x":1.1,"y":0.4,"v":97.5},{"x":1.2,"y":0.4,"v":97.5},{"x":1.3,"y":0.4,"v":97.5},
{"x":0.3,"y":0.3,"v":97.5},{"x":0.4,"y":0.3,"v":97.5},{"x":0.5,"y":0.3,"v":97.5},{"x":0.6,"y":0.3,"v":99},{"x":0.7,"y":0.3,"v":97.5},{"x":0.8,"y":0.3,"v":97.5},{"x":0.9,"y":0.3,"v":97.5},{"x":1,"y":0.3,"v":97.5},{"x":1.1,"y":0.3,"v":99},{"x":1.2,"y":0.3,"v":97.5},{"x":1.3,"y":0.3,"v":97.5},
{"x":0.2,"y":0.2,"v":99},{"x":0.3,"y":0.2,"v":99},{"x":0.4,"y":0.2,"v":99},{"x":0.5,"y":0.2,"v":99},{"x":0.6,"y":0.2,"v":99},{"x":0.7,"y":0.2,"v":97.5},{"x":0.8,"y":0.2,"v":99},{"x":0.9,"y":0.2,"v":99},{"x":1,"y":0.2,"v":99},{"x":1.1,"y":0.2,"v":99},{"x":1.2,"y":0.2,"v":99},{"x":1.3,"y":0.2,"v":97.5},
{"x":0.1,"y":0.1,"v":99},{"x":0.2,"y":0.1,"v":99},{"x":0.3,"y":0.1,"v":99},{"x":0.4,"y":0.1,"v":99},{"x":0.5,"y":0.1,"v":99},{"x":0.6,"y":0.1,"v":99},{"x":0.7,"y":0.1,"v":99},{"x":0.8,"y":0.1,"v":99},{"x":0.9,"y":0.1,"v":99},{"x":1,"y":0.1,"v":99},{"x":1.1,"y":0.1,"v":99},{"x":1.2,"y":0.1,"v":99},{"x":1.3,"y":0.1,"v":97.5}
],
"B6": [
{"x":1.3,"y":1.3,"v":97.5},
{"x":1.2,"y":1.2,"v":97.5},{"x":1.3,"y":1.2,"v":97.5},
{"x":1.1,"y":1.1,"v":97.5},{"x":1.2,"y":1.1,"v":97.5},{"x":1.3,"y":1.1,"v":97.5},
{"x":1,"y":1,"v":97.5},{"x":1.1,"y":1,"v":97.5},{"x":1.2,"y":1,"v":96},{"x":1.3,"y":1,"v":97.5},
{"x":0.9,"y":0.9,"v":97.5},{"x":1,"y":0.9,"v":97.5},{"x":1.1,"y":0.9,"v":97.5},{"x":1.2,"y":0.9,"v":97.5},{"x":1.3,"y":0.9,"v":97.5},
{"x":0.8,"y":0.8,"v":97.5},{"x":0.9,"y":0.8,"v":97.5},{"x":1,"y":0.8,"v":97.5},{"x":1.1,"y":0.8,"v":97.5},{"x":1.2,"y":0.8,"v":97.5},{"x":1.3,"y":0.8,"v":97.5},
{"x":0.7,"y":0.7,"v":97.5},{"x":0.8,"y":0.7,"v":96},{"x":0.9,"y":0.7,"v":97.5},{"x":1,"y":0.7,"v":97.5},{"x":1.1,"y":0.7,"v":97.5},{"x":1.2,"y":0.7,"v":97.5},{"x":1.3,"y":0.7,"v":97.5},
{"x":0.6,"y":0.6,"v":97.5},{"x":0.7,"y":0.6,"v":97.5},{"x":0.8,"y":0.6,"v":99},{"x":0.9,"y":0.6,"v":97.5},{"x":1,"y":0.6,"v":97.5},{"x":1.1,"y":0.6,"v":97.5},{"x":1.2,"y":0.6,"v":97.5},{"x":1.3,"y":0.6,"v":97.5},
{"x":0.5,"y":0.5,"v":97.5},{"x":0.6,"y":0.5,"v":97.5},{"x":0.7,"y":0.5,"v":97.5},{"x":0.8,"y":0.5,"v":97.5},{"x":0.9,"y":0.5,"v":97.5},{"x":1,"y":0.5,"v":97.5},{"x":1.1,"y":0.5,"v":97.5},{"x":1.2,"y":0.5,"v":97.5},{"x":1.3,"y":0.5,"v":97.5},
{"x":0.4,"y":0.4,"v":97.5},{"x":0.5,"y":0.4,"v":97.5},{"x":0.6,"y":0.4,"v":97.5},{"x":0.7,"y":0.4,"v":97.5},{"x":0.8,"y":0.4,"v":97.5},{"x":0.9,"y":0.4,"v":97.5},{"x":1,"y":0.4,"v":99},{"x":1.1,"y":0.4,"v":97.5},{"x":1.2,"y":0.4,"v":97.5},{"x":1.3,"y":0.4,"v":97.5},
{"x":0.3,"y":0.3,"v":97.5},{"x":0.4,"y":0.3,"v":97.5},{"x":0.5,"y":0.3,"v":97.5},{"x":0.6,"y":0.3,"v":97.5},{"x":0.7,"y":0.3,"v":97.5},{"x":0.8,"y":0.3,"v":97.5},{"x":0.9,"y":0.3,"v":97.5},{"x":1,"y":0.3,"v":97.5},{"x":1.1,"y":0.3,"v":97.5},{"x":1.2,"y":0.3,"v":97.5},{"x":1.3,"y":0.3,"v":97.5},
{"x":0.2,"y":0.2,"v":99},{"x":0.3,"y":0.2,"v":97.5},{"x":0.4,"y":0.2,"v":97.5},{"x":0.5,"y":0.2,"v":97.5},{"x":0.6,"y":0.2,"v":99},{"x":0.7,"y":0.2,"v":99},{"x":0.8,"y":0.2,"v":97.5},{"x":0.9,"y":0.2,"v":97.5},{"x":1,"y":0.2,"v":97.5},{"x":1.1,"y":0.2,"v":97.5},{"x":1.2,"y":0.2,"v":97.5},{"x":1.3,"y":0.2,"v":97.5},
{"x":0.1,"y":0.1,"v":99},{"x":0.2,"y":0.1,"v":99},{"x":0.3,"y":0.1,"v":99},{"x":0.4,"y":0.1,"v":99},{"x":0.5,"y":0.1,"v":97.5},{"x":0.6,"y":0.1,"v":99},{"x":0.7,"y":0.1,"v":97.5},{"x":0.8,"y":0.1,"v":99},{"x":0.9,"y":0.1,"v":99},{"x":1,"y":0.1,"v":99},{"x":1.1,"y":0.1,"v":99},{"x":1.2,"y":0.1,"v":99},{"x":1.3,"y":0.1,"v":99}
]
},
"bounds": "flush",
"spacing": 103,
"vconcat": [
{
  "width": 1572, "height": 55,
  "data": {"values": [{"lo": 95, "hi": 97, "v": 96}, {"lo": 97, "hi": 98, "v": 97.5}, {"lo": 98, "hi": 100, "v": 99}]},
  "mark": {"type": "rect"},
  "encoding": {
    "x": {"field": "lo", "type": "quantitative", "scale": {"domain": [95, 100], "nice": false, "zero": false},
          "axis": {"orient": "top", "values": [95, 96, 97, 97.5, 98, 99, 100], "labelExpr": "datum.value + '%'", "title": null, "tickSize": 10, "labelPadding": 14, "labelFontSize": 33.5}},
    "x2": {"field": "hi"},
    "color": {"field": "v", "type": "quantitative", "scale": {"type": "threshold", "domain": [97, 98], "range": ["#CCCCCC", "#808080", "#333333"]}, "legend": null}
  }
},
{
  "bounds": "flush",
  "spacing": 0,
  "columns": 6,
  "concat": [
    {"width": 262, "height": 347, "layer": [
      {"data": {"name": "A1"}, "mark": {"type": "rect", "clip": true, "binSpacing": 0, "strokeWidth": 0.8},
       "encoding": {
         "x": {"field": "x", "type": "quantitative", "bin": {"step": 0.1, "extent": [0.05, 1.35], "nice": false}, "scale": {"domain": [0.1, 1.3], "nice": false, "zero": false}, "axis": {"orient": "top", "values": [0.2, 0.4, 0.6, 0.8, 1, 1.2], "format": ".1f", "labels": false, "title": null}},
         "y": {"field": "y", "type": "quantitative", "bin": {"step": 0.1, "extent": [0.05, 1.35], "nice": false}, "scale": {"domain": [0.05, 1.35], "range": [347, 94], "nice": false, "zero": false}, "axis": {"orient": "left", "values": [0.2, 0.4, 0.6, 0.8, 1, 1.2], "format": ".1f", "labelPadding": 18, "title": "Relative Risk 2:  ρ₂", "titleY": 395, "titlePadding": 46.4}},
         "color": {"field": "v", "type": "quantitative", "scale": {"type": "threshold", "domain": [97, 98], "range": ["#CCCCCC", "#808080", "#333333"]}, "legend": null},
         "stroke": {"field": "v", "type": "quantitative", "scale": {"type": "threshold", "domain": [97, 98], "range": ["#CCCCCC", "#808080", "#333333"]}, "legend": null}}},
      {"data": {"values": [{"s": "a", "t": "pi.0 = 0.01"}, {"s": "b", "t": "T1.Sid"}]}, "mark": {"type": "rect", "stroke": "black", "strokeWidth": 1.5},
       "encoding": {"y": {"field": "s", "type": "nominal", "scale": {"domain": ["a", "b"], "range": [0, 94], "paddingInner": 0, "paddingOuter": 0}, "axis": null}, "fill": {"field": "s", "type": "nominal", "scale": {"domain": ["a", "b"], "range": ["#CCFFCC", "#FFE5CC"]}, "legend": null}}},
      {"data": {"values": [{"s": "a", "t": "pi.0 = 0.01"}, {"s": "b", "t": "T1.Sid"}]}, "mark": {"type": "text", "fontSize": 40, "color": "black"},
       "encoding": {"y": {"field": "s", "type": "nominal", "scale": {"domain": ["a", "b"], "range": [0, 94], "paddingInner": 0, "paddingOuter": 0}, "axis": null}, "text": {"field": "t"}}}
    ], "resolve": {"scale": {"y": "independent"}}},
    {"width": 262, "height": 347, "layer": [
      {"data": {"name": "A2"}, "mark": {"type": "rect", "clip": true, "binSpacing": 0, "strokeWidth": 0.8},
       "encoding": {
         "x": {"field": "x", "type": "quantitative", "bin": {"step": 0.1, "extent": [0.05, 1.35], "nice": false}, "scale": {"domain": [0.1, 1.3], "nice": false, "zero": false}, "axis": {"orient": "top", "values": [0.2, 0.4, 0.6, 0.8, 1, 1.2], "format": ".1f", "labelExpr": "datum.value == 0.4 || datum.value == 0.8 || datum.value == 1.2 ? '' : datum.label", "labelPadding": 14.5, "title": null}},
         "y": {"field": "y", "type": "quantitative", "bin": {"step": 0.1, "extent": [0.05, 1.35], "nice": false}, "scale": {"domain": [0.05, 1.35], "range": [347, 94], "nice": false, "zero": false}, "axis": null},
         "color": {"field": "v", "type": "quantitative", "scale": {"type": "threshold", "domain": [97, 98], "range": ["#CCCCCC", "#808080", "#333333"]}, "legend": null},
         "stroke": {"field": "v", "type": "quantitative", "scale": {"type": "threshold", "domain": [97, 98], "range": ["#CCCCCC", "#808080", "#333333"]}, "legend": null}}},
      {"data": {"values": [{"s": "a", "t": "pi.0 = 0.01"}, {"s": "b", "t": "T1.Dun"}]}, "mark": {"type": "rect", "stroke": "black", "strokeWidth": 1.5},
       "encoding": {"y": {"field": "s", "type": "nominal", "scale": {"domain": ["a", "b"], "range": [0, 94], "paddingInner": 0, "paddingOuter": 0}, "axis": null}, "fill": {"field": "s", "type": "nominal", "scale": {"domain": ["a", "b"], "range": ["#CCFFCC", "#FFE5CC"]}, "legend": null}}},
      {"data": {"values": [{"s": "a", "t": "pi.0 = 0.01"}, {"s": "b", "t": "T1.Dun"}]}, "mark": {"type": "text", "fontSize": 40, "color": "black"},
       "encoding": {"y": {"field": "s", "type": "nominal", "scale": {"domain": ["a", "b"], "range": [0, 94], "paddingInner": 0, "paddingOuter": 0}, "axis": null}, "text": {"field": "t"}}}
    ], "resolve": {"scale": {"y": "independent"}}},
    {"width": 262, "height": 347, "layer": [
      {"data": {"name": "A3"}, "mark": {"type": "rect", "clip": true, "binSpacing": 0, "strokeWidth": 0.8},
       "encoding": {
         "x": {"field": "x", "type": "quantitative", "bin": {"step": 0.1, "extent": [0.05, 1.35], "nice": false}, "scale": {"domain": [0.1, 1.3], "nice": false, "zero": false}, "axis": {"orient": "top", "values": [0.2, 0.4, 0.6, 0.8, 1, 1.2], "format": ".1f", "labels": false, "title": null}},
         "y": {"field": "y", "type": "quantitative", "bin": {"step": 0.1, "extent": [0.05, 1.35], "nice": false}, "scale": {"domain": [0.05, 1.35], "range": [347, 94], "nice": false, "zero": false}, "axis": null},
         "color": {"field": "v", "type": "quantitative", "scale": {"type": "threshold", "domain": [97, 98], "range": ["#CCCCCC", "#808080", "#333333"]}, "legend": null},
         "stroke": {"field": "v", "type": "quantitative", "scale": {"type": "threshold", "domain": [97, 98], "range": ["#CCCCCC", "#808080", "#333333"]}, "legend": null}}},
      {"data": {"values": [{"s": "a", "t": "pi.0 = 0.01"}, {"s": "b", "t": "T1.BB"}]}, "mark": {"type": "rect", "stroke": "black", "strokeWidth": 1.5},
       "encoding": {"y": {"field": "s", "type": "nominal", "scale": {"domain": ["a", "b"], "range": [0, 94], "paddingInner": 0, "paddingOuter": 0}, "axis": null}, "fill": {"field": "s", "type": "nominal", "scale": {"domain": ["a", "b"], "range": ["#CCFFCC", "#FFE5CC"]}, "legend": null}}},
      {"data": {"values": [{"s": "a", "t": "pi.0 = 0.01"}, {"s": "b", "t": "T1.BB"}]}, "mark": {"type": "text", "fontSize": 40, "color": "black"},
       "encoding": {"y": {"field": "s", "type": "nominal", "scale": {"domain": ["a", "b"], "range": [0, 94], "paddingInner": 0, "paddingOuter": 0}, "axis": null}, "text": {"field": "t"}}}
    ], "resolve": {"scale": {"y": "independent"}}},
    {"width": 262, "height": 347, "layer": [
      {"data": {"name": "A4"}, "mark": {"type": "rect", "clip": true, "binSpacing": 0, "strokeWidth": 0.8},
       "encoding": {
         "x": {"field": "x", "type": "quantitative", "bin": {"step": 0.1, "extent": [0.05, 1.35], "nice": false}, "scale": {"domain": [0.1, 1.3], "nice": false, "zero": false}, "axis": {"orient": "top", "values": [0.2, 0.4, 0.6, 0.8, 1, 1.2], "format": ".1f", "labelExpr": "datum.value == 0.4 || datum.value == 0.8 || datum.value == 1.2 ? '' : datum.label", "labelPadding": 14.5, "title": null}},
         "y": {"field": "y", "type": "quantitative", "bin": {"step": 0.1, "extent": [0.05, 1.35], "nice": false}, "scale": {"domain": [0.05, 1.35], "range": [347, 94], "nice": false, "zero": false}, "axis": null},
         "color": {"field": "v", "type": "quantitative", "scale": {"type": "threshold", "domain": [97, 98], "range": ["#CCCCCC", "#808080", "#333333"]}, "legend": null},
         "stroke": {"field": "v", "type": "quantitative", "scale": {"type": "threshold", "domain": [97, 98], "range": ["#CCCCCC", "#808080", "#333333"]}, "legend": null}}},
      {"data": {"values": [{"s": "a", "t": "pi.0 = 0.01"}, {"s": "b", "t": "S2.Sid"}]}, "mark": {"type": "rect", "stroke": "black", "strokeWidth": 1.5},
       "encoding": {"y": {"field": "s", "type": "nominal", "scale": {"domain": ["a", "b"], "range": [0, 94], "paddingInner": 0, "paddingOuter": 0}, "axis": null}, "fill": {"field": "s", "type": "nominal", "scale": {"domain": ["a", "b"], "range": ["#CCFFCC", "#FFE5CC"]}, "legend": null}}},
      {"data": {"values": [{"s": "a", "t": "pi.0 = 0.01"}, {"s": "b", "t": "S2.Sid"}]}, "mark": {"type": "text", "fontSize": 40, "color": "black"},
       "encoding": {"y": {"field": "s", "type": "nominal", "scale": {"domain": ["a", "b"], "range": [0, 94], "paddingInner": 0, "paddingOuter": 0}, "axis": null}, "text": {"field": "t"}}}
    ], "resolve": {"scale": {"y": "independent"}}},
    {"width": 262, "height": 347, "layer": [
      {"data": {"name": "A5"}, "mark": {"type": "rect", "clip": true, "binSpacing": 0, "strokeWidth": 0.8},
       "encoding": {
         "x": {"field": "x", "type": "quantitative", "bin": {"step": 0.1, "extent": [0.05, 1.35], "nice": false}, "scale": {"domain": [0.1, 1.3], "nice": false, "zero": false}, "axis": {"orient": "top", "values": [0.2, 0.4, 0.6, 0.8, 1, 1.2], "format": ".1f", "labels": false, "title": null}},
         "y": {"field": "y", "type": "quantitative", "bin": {"step": 0.1, "extent": [0.05, 1.35], "nice": false}, "scale": {"domain": [0.05, 1.35], "range": [347, 94], "nice": false, "zero": false}, "axis": null},
         "color": {"field": "v", "type": "quantitative", "scale": {"type": "threshold", "domain": [97, 98], "range": ["#CCCCCC", "#808080", "#333333"]}, "legend": null},
         "stroke": {"field": "v", "type": "quantitative", "scale": {"type": "threshold", "domain": [97, 98], "range": ["#CCCCCC", "#808080", "#333333"]}, "legend": null}}},
      {"data": {"values": [{"s": "a", "t": "pi.0 = 0.01"}, {"s": "b", "t": "S2.Dun"}]}, "mark": {"type": "rect", "stroke": "black", "strokeWidth": 1.5},
       "encoding": {"y": {"field": "s", "type": "nominal", "scale": {"domain": ["a", "b"], "range": [0, 94], "paddingInner": 0, "paddingOuter": 0}, "axis": null}, "fill": {"field": "s", "type": "nominal", "scale": {"domain": ["a", "b"], "range": ["#CCFFCC", "#FFE5CC"]}, "legend": null}}},
      {"data": {"values": [{"s": "a", "t": "pi.0 = 0.01"}, {"s": "b", "t": "S2.Dun"}]}, "mark": {"type": "text", "fontSize": 40, "color": "black"},
       "encoding": {"y": {"field": "s", "type": "nominal", "scale": {"domain": ["a", "b"], "range": [0, 94], "paddingInner": 0, "paddingOuter": 0}, "axis": null}, "text": {"field": "t"}}}
    ], "resolve": {"scale": {"y": "independent"}}},
    {"width": 262, "height": 347, "layer": [
      {"data": {"name": "A6"}, "mark": {"type": "rect", "clip": true, "binSpacing": 0, "strokeWidth": 0.8},
       "encoding": {
         "x": {"field": "x", "type": "quantitative", "bin": {"step": 0.1, "extent": [0.05, 1.35], "nice": false}, "scale": {"domain": [0.1, 1.3], "nice": false, "zero": false}, "axis": {"orient": "top", "values": [0.2, 0.4, 0.6, 0.8, 1, 1.2], "format": ".1f", "labelExpr": "datum.value == 0.4 || datum.value == 0.8 || datum.value == 1.2 ? '' : datum.label", "labelPadding": 14.5, "title": null}},
         "y": {"field": "y", "type": "quantitative", "bin": {"step": 0.1, "extent": [0.05, 1.35], "nice": false}, "scale": {"domain": [0.05, 1.35], "range": [347, 94], "nice": false, "zero": false}, "axis": {"orient": "right", "values": [0.2, 0.4, 0.6, 0.8, 1, 1.2], "labels": false, "title": null}},
         "color": {"field": "v", "type": "quantitative", "scale": {"type": "threshold", "domain": [97, 98], "range": ["#CCCCCC", "#808080", "#333333"]}, "legend": null},
         "stroke": {"field": "v", "type": "quantitative", "scale": {"type": "threshold", "domain": [97, 98], "range": ["#CCCCCC", "#808080", "#333333"]}, "legend": null}}},
      {"data": {"values": [{"s": "a", "t": "pi.0 = 0.01"}, {"s": "b", "t": "S2.BB"}]}, "mark": {"type": "rect", "stroke": "black", "strokeWidth": 1.5},
       "encoding": {"y": {"field": "s", "type": "nominal", "scale": {"domain": ["a", "b"], "range": [0, 94], "paddingInner": 0, "paddingOuter": 0}, "axis": null}, "fill": {"field": "s", "type": "nominal", "scale": {"domain": ["a", "b"], "range": ["#CCFFCC", "#FFE5CC"]}, "legend": null}}},
      {"data": {"values": [{"s": "a", "t": "pi.0 = 0.01"}, {"s": "b", "t": "S2.BB"}]}, "mark": {"type": "text", "fontSize": 40, "color": "black"},
       "encoding": {"y": {"field": "s", "type": "nominal", "scale": {"domain": ["a", "b"], "range": [0, 94], "paddingInner": 0, "paddingOuter": 0}, "axis": null}, "text": {"field": "t"}}}
    ], "resolve": {"scale": {"y": "independent"}}},
    {"width": 262, "height": 347, "layer": [
      {"data": {"name": "B1"}, "mark": {"type": "rect", "clip": true, "binSpacing": 0, "strokeWidth": 0.8},
       "encoding": {
         "x": {"field": "x", "type": "quantitative", "bin": {"step": 0.1, "extent": [0.05, 1.35], "nice": false}, "scale": {"domain": [0.1, 1.3], "nice": false, "zero": false}, "axis": {"orient": "bottom", "values": [0.2, 0.4, 0.6, 0.8, 1, 1.2], "format": ".1f", "labelExpr": "datum.value == 0.4 || datum.value == 0.8 || datum.value == 1.2 ? '' : datum.label", "labelPadding": 16, "title": null}},
         "y": {"field": "y", "type": "quantitative", "bin": {"step": 0.1, "extent": [0.05, 1.35], "nice": false}, "scale": {"domain": [0.05, 1.35], "range": [347, 94], "nice": false, "zero": false}, "axis": {"orient": "left", "values": [0.2, 0.4, 0.6, 0.8, 1, 1.2], "labels": false, "title": null}},
         "color": {"field": "v", "type": "quantitative", "scale": {"type": "threshold", "domain": [97, 98], "range": ["#CCCCCC", "#808080", "#333333"]}, "legend": null},
         "stroke": {"field": "v", "type": "quantitative", "scale": {"type": "threshold", "domain": [97, 98], "range": ["#CCCCCC", "#808080", "#333333"]}, "legend": null}}},
      {"data": {"values": [{"s": "a", "t": "pi.0=0.03"}, {"s": "b", "t": "T1.Sid"}]}, "mark": {"type": "rect", "stroke": "black", "strokeWidth": 1.5},
       "encoding": {"y": {"field": "s", "type": "nominal", "scale": {"domain": ["a", "b"], "range": [0, 94], "paddingInner": 0, "paddingOuter": 0}, "axis": null}, "fill": {"field": "s", "type": "nominal", "scale": {"domain": ["a", "b"], "range": ["#CCFFCC", "#FFE5CC"]}, "legend": null}}},
      {"data": {"values": [{"s": "a", "t": "pi.0=0.03"}, {"s": "b", "t": "T1.Sid"}]}, "mark": {"type": "text", "fontSize": 40, "color": "black"},
       "encoding": {"y": {"field": "s", "type": "nominal", "scale": {"domain": ["a", "b"], "range": [0, 94], "paddingInner": 0, "paddingOuter": 0}, "axis": null}, "text": {"field": "t"}}}
    ], "resolve": {"scale": {"y": "independent"}}},
    {"width": 262, "height": 347, "layer": [
      {"data": {"name": "B2"}, "mark": {"type": "rect", "clip": true, "binSpacing": 0, "strokeWidth": 0.8},
       "encoding": {
         "x": {"field": "x", "type": "quantitative", "bin": {"step": 0.1, "extent": [0.05, 1.35], "nice": false}, "scale": {"domain": [0.1, 1.3], "nice": false, "zero": false}, "axis": {"orient": "bottom", "values": [0.2, 0.4, 0.6, 0.8, 1, 1.2], "labels": false, "title": null}},
         "y": {"field": "y", "type": "quantitative", "bin": {"step": 0.1, "extent": [0.05, 1.35], "nice": false}, "scale": {"domain": [0.05, 1.35], "range": [347, 94], "nice": false, "zero": false}, "axis": null},
         "color": {"field": "v", "type": "quantitative", "scale": {"type": "threshold", "domain": [97, 98], "range": ["#CCCCCC", "#808080", "#333333"]}, "legend": null},
         "stroke": {"field": "v", "type": "quantitative", "scale": {"type": "threshold", "domain": [97, 98], "range": ["#CCCCCC", "#808080", "#333333"]}, "legend": null}}},
      {"data": {"values": [{"s": "a", "t": "pi.0=0.03"}, {"s": "b", "t": "T1.Dun"}]}, "mark": {"type": "rect", "stroke": "black", "strokeWidth": 1.5},
       "encoding": {"y": {"field": "s", "type": "nominal", "scale": {"domain": ["a", "b"], "range": [0, 94], "paddingInner": 0, "paddingOuter": 0}, "axis": null}, "fill": {"field": "s", "type": "nominal", "scale": {"domain": ["a", "b"], "range": ["#CCFFCC", "#FFE5CC"]}, "legend": null}}},
      {"data": {"values": [{"s": "a", "t": "pi.0=0.03"}, {"s": "b", "t": "T1.Dun"}]}, "mark": {"type": "text", "fontSize": 40, "color": "black"},
       "encoding": {"y": {"field": "s", "type": "nominal", "scale": {"domain": ["a", "b"], "range": [0, 94], "paddingInner": 0, "paddingOuter": 0}, "axis": null}, "text": {"field": "t"}}}
    ], "resolve": {"scale": {"y": "independent"}}},
    {"width": 262, "height": 347, "layer": [
      {"data": {"name": "B3"}, "mark": {"type": "rect", "clip": true, "binSpacing": 0, "strokeWidth": 0.8},
       "encoding": {
         "x": {"field": "x", "type": "quantitative", "bin": {"step": 0.1, "extent": [0.05, 1.35], "nice": false}, "scale": {"domain": [0.1, 1.3], "nice": false, "zero": false}, "axis": {"orient": "bottom", "values": [0.2, 0.4, 0.6, 0.8, 1, 1.2], "format": ".1f", "labelExpr": "datum.value == 0.4 || datum.value == 0.8 || datum.value == 1.2 ? '' : datum.label", "labelPadding": 16, "title": "Relative Risk 1: ρ₁", "titleX": 262, "titlePadding": 34}},
         "y": {"field": "y", "type": "quantitative", "bin": {"step": 0.1, "extent": [0.05, 1.35], "nice": false}, "scale": {"domain": [0.05, 1.35], "range": [347, 94], "nice": false, "zero": false}, "axis": null},
         "color": {"field": "v", "type": "quantitative", "scale": {"type": "threshold", "domain": [97, 98], "range": ["#CCCCCC", "#808080", "#333333"]}, "legend": null},
         "stroke": {"field": "v", "type": "quantitative", "scale": {"type": "threshold", "domain": [97, 98], "range": ["#CCCCCC", "#808080", "#333333"]}, "legend": null}}},
      {"data": {"values": [{"s": "a", "t": "pi.0=0.03"}, {"s": "b", "t": "T1.BB"}]}, "mark": {"type": "rect", "stroke": "black", "strokeWidth": 1.5},
       "encoding": {"y": {"field": "s", "type": "nominal", "scale": {"domain": ["a", "b"], "range": [0, 94], "paddingInner": 0, "paddingOuter": 0}, "axis": null}, "fill": {"field": "s", "type": "nominal", "scale": {"domain": ["a", "b"], "range": ["#CCFFCC", "#FFE5CC"]}, "legend": null}}},
      {"data": {"values": [{"s": "a", "t": "pi.0=0.03"}, {"s": "b", "t": "T1.BB"}]}, "mark": {"type": "text", "fontSize": 40, "color": "black"},
       "encoding": {"y": {"field": "s", "type": "nominal", "scale": {"domain": ["a", "b"], "range": [0, 94], "paddingInner": 0, "paddingOuter": 0}, "axis": null}, "text": {"field": "t"}}}
    ], "resolve": {"scale": {"y": "independent"}}},
    {"width": 262, "height": 347, "layer": [
      {"data": {"name": "B4"}, "mark": {"type": "rect", "clip": true, "binSpacing": 0, "strokeWidth": 0.8},
       "encoding": {
         "x": {"field": "x", "type": "quantitative", "bin": {"step": 0.1, "extent": [0.05, 1.35], "nice": false}, "scale": {"domain": [0.1, 1.3], "nice": false, "zero": false}, "axis": {"orient": "bottom", "values": [0.2, 0.4, 0.6, 0.8, 1, 1.2], "labels": false, "title": null}},
         "y": {"field": "y", "type": "quantitative", "bin": {"step": 0.1, "extent": [0.05, 1.35], "nice": false}, "scale": {"domain": [0.05, 1.35], "range": [347, 94], "nice": false, "zero": false}, "axis": null},
         "color": {"field": "v", "type": "quantitative", "scale": {"type": "threshold", "domain": [97, 98], "range": ["#CCCCCC", "#808080", "#333333"]}, "legend": null},
         "stroke": {"field": "v", "type": "quantitative", "scale": {"type": "threshold", "domain": [97, 98], "range": ["#CCCCCC", "#808080", "#333333"]}, "legend": null}}},
      {"data": {"values": [{"s": "a", "t": "pi.0=0.03"}, {"s": "b", "t": "S2.Sid"}]}, "mark": {"type": "rect", "stroke": "black", "strokeWidth": 1.5},
       "encoding": {"y": {"field": "s", "type": "nominal", "scale": {"domain": ["a", "b"], "range": [0, 94], "paddingInner": 0, "paddingOuter": 0}, "axis": null}, "fill": {"field": "s", "type": "nominal", "scale": {"domain": ["a", "b"], "range": ["#CCFFCC", "#FFE5CC"]}, "legend": null}}},
      {"data": {"values": [{"s": "a", "t": "pi.0=0.03"}, {"s": "b", "t": "S2.Sid"}]}, "mark": {"type": "text", "fontSize": 40, "color": "black"},
       "encoding": {"y": {"field": "s", "type": "nominal", "scale": {"domain": ["a", "b"], "range": [0, 94], "paddingInner": 0, "paddingOuter": 0}, "axis": null}, "text": {"field": "t"}}}
    ], "resolve": {"scale": {"y": "independent"}}},
    {"width": 262, "height": 347, "layer": [
      {"data": {"name": "B5"}, "mark": {"type": "rect", "clip": true, "binSpacing": 0, "strokeWidth": 0.8},
       "encoding": {
         "x": {"field": "x", "type": "quantitative", "bin": {"step": 0.1, "extent": [0.05, 1.35], "nice": false}, "scale": {"domain": [0.1, 1.3], "nice": false, "zero": false}, "axis": {"orient": "bottom", "values": [0.2, 0.4, 0.6, 0.8, 1, 1.2], "format": ".1f", "labelExpr": "datum.value == 0.4 || datum.value == 0.8 || datum.value == 1.2 ? '' : datum.label", "labelPadding": 16, "title": null}},
         "y": {"field": "y", "type": "quantitative", "bin": {"step": 0.1, "extent": [0.05, 1.35], "nice": false}, "scale": {"domain": [0.05, 1.35], "range": [347, 94], "nice": false, "zero": false}, "axis": null},
         "color": {"field": "v", "type": "quantitative", "scale": {"type": "threshold", "domain": [97, 98], "range": ["#CCCCCC", "#808080", "#333333"]}, "legend": null},
         "stroke": {"field": "v", "type": "quantitative", "scale": {"type": "threshold", "domain": [97, 98], "range": ["#CCCCCC", "#808080", "#333333"]}, "legend": null}}},
      {"data": {"values": [{"s": "a", "t": "pi.0=0.03"}, {"s": "b", "t": "S2.Dun"}]}, "mark": {"type": "rect", "stroke": "black", "strokeWidth": 1.5},
       "encoding": {"y": {"field": "s", "type": "nominal", "scale": {"domain": ["a", "b"], "range": [0, 94], "paddingInner": 0, "paddingOuter": 0}, "axis": null}, "fill": {"field": "s", "type": "nominal", "scale": {"domain": ["a", "b"], "range": ["#CCFFCC", "#FFE5CC"]}, "legend": null}}},
      {"data": {"values": [{"s": "a", "t": "pi.0=0.03"}, {"s": "b", "t": "S2.Dun"}]}, "mark": {"type": "text", "fontSize": 40, "color": "black"},
       "encoding": {"y": {"field": "s", "type": "nominal", "scale": {"domain": ["a", "b"], "range": [0, 94], "paddingInner": 0, "paddingOuter": 0}, "axis": null}, "text": {"field": "t"}}}
    ], "resolve": {"scale": {"y": "independent"}}},
    {"width": 262, "height": 347, "layer": [
      {"data": {"name": "B6"}, "mark": {"type": "rect", "clip": true, "binSpacing": 0, "strokeWidth": 0.8},
       "encoding": {
         "x": {"field": "x", "type": "quantitative", "bin": {"step": 0.1, "extent": [0.05, 1.35], "nice": false}, "scale": {"domain": [0.1, 1.3], "nice": false, "zero": false}, "axis": {"orient": "bottom", "values": [0.2, 0.4, 0.6, 0.8, 1, 1.2], "labels": false, "title": null}},
         "y": {"field": "y", "type": "quantitative", "bin": {"step": 0.1, "extent": [0.05, 1.35], "nice": false}, "scale": {"domain": [0.05, 1.35], "range": [347, 94], "nice": false, "zero": false}, "axis": {"orient": "right", "values": [0.2, 0.4, 0.6, 0.8, 1, 1.2], "format": ".1f", "labelPadding": 16, "title": null}},
         "color": {"field": "v", "type": "quantitative", "scale": {"type": "threshold", "domain": [97, 98], "range": ["#CCCCCC", "#808080", "#333333"]}, "legend": null},
         "stroke": {"field": "v", "type": "quantitative", "scale": {"type": "threshold", "domain": [97, 98], "range": ["#CCCCCC", "#808080", "#333333"]}, "legend": null}}},
      {"data": {"values": [{"s": "a", "t": "pi.0=0.03"}, {"s": "b", "t": "S2.BB"}]}, "mark": {"type": "rect", "stroke": "black", "strokeWidth": 1.5},
       "encoding": {"y": {"field": "s", "type": "nominal", "scale": {"domain": ["a", "b"], "range": [0, 94], "paddingInner": 0, "paddingOuter": 0}, "axis": null}, "fill": {"field": "s", "type": "nominal", "scale": {"domain": ["a", "b"], "range": ["#CCFFCC", "#FFE5CC"]}, "legend": null}}},
      {"data": {"values": [{"s": "a", "t": "pi.0=0.03"}, {"s": "b", "t": "S2.BB"}]}, "mark": {"type": "text", "fontSize": 40, "color": "black"},
       "encoding": {"y": {"field": "s", "type": "nominal", "scale": {"domain": ["a", "b"], "range": [0, 94], "paddingInner": 0, "paddingOuter": 0}, "axis": null}, "text": {"field": "t"}}}
    ], "resolve": {"scale": {"y": "independent"}}}
  ]
}
]
}
